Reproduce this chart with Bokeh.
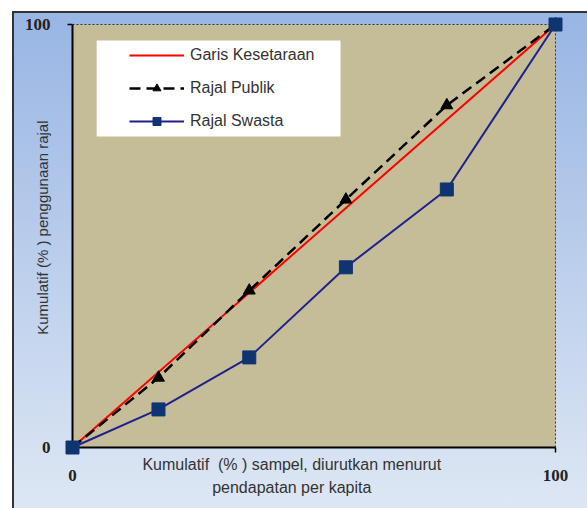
from bokeh.plotting import figure
from bokeh.models import Range1d, FixedTicker, BoxAnnotation, Legend, LegendItem
from bokeh.embed import file_html
from bokeh.resources import INLINE

# ---- data ----
x_pct = [0, 17.8, 36.6, 56.6, 77.5, 100]
rajal_publik = [0, 16.5, 37.1, 58.6, 80.9, 100]
rajal_swasta = [0, 9.0, 21.3, 42.6, 61.0, 100]
equal_x = [0, 100]
equal_y = [0, 100]
tick_values = [0, 100]
series_names = ["Garis Kesetaraan", "Rajal Publik", "Rajal Swasta"]
x_title = ["Kumulatif\u00a0 (% ) sampel, diurutkan menurut", "pendapatan per kapita"]
y_title = "Kumulatif (% ) penggunaan rajal"

NB = "\u00a0"
lo, hi = tick_values[0], tick_values[-1]

# frame is padded a little around the 0..100 plot area so corner markers are not cut
XPX = 4.83   # px per unit
YPX = 4.23
p = figure(width=587, height=508,
           x_range=Range1d(lo - 14 / XPX, hi + 14 / XPX),
           y_range=Range1d(lo - 13 / YPX, hi + 13 / YPX),
           output_backend="svg", toolbar_location=None,
           min_border_left=58, min_border_right=18,
           min_border_top=11, min_border_bottom=48,
           background_fill_color=None, border_fill_color=None)

p.styles = {
    "background": "linear-gradient(#333,#333) 12px 11px / 2px 100% no-repeat, "
                  "linear-gradient(#333,#333) 12px 11px / 100% 2px no-repeat, "
                  "linear-gradient(#98b5e4, #dfe8f4) 12px 11px / 100% 100% no-repeat, white"
}

p.outline_line_color = None
p.xgrid.visible = False
p.ygrid.visible = False

for ax in (p.xaxis[0], p.yaxis[0]):
    ax.ticker = FixedTicker(ticks=tick_values)
    ax.minor_tick_line_color = None
    ax.axis_line_color = None
    ax.major_tick_line_color = None
    ax.major_tick_in = 0
    ax.major_tick_out = 0
    ax.major_label_text_font = "Liberation Serif"
    ax.major_label_text_font_style = "bold"
    ax.major_label_text_font_size = "17px"
    ax.major_label_text_color = "#222222"
    ax.axis_label_text_font = "Liberation Sans"
    ax.axis_label_text_font_style = "normal"
    ax.axis_label_text_color = "#333333"
p.yaxis[0].major_label_standoff = 8
p.xaxis[0].major_label_standoff = 9

pad_x = NB * 10
p.xaxis[0].axis_label = x_title[0] + pad_x + "\n" + x_title[1] + pad_x
p.xaxis[0].axis_label_text_font_size = "16px"
p.xaxis[0].axis_label_standoff = -28
p.xaxis[0].axis_label_text_line_height = 1.375
p.yaxis[0].axis_label = NB * 4 + y_title
p.yaxis[0].axis_label_text_font_size = "15px"
p.yaxis[0].axis_label_standoff = -29

# plot area (tan) and legend background
p.add_layout(BoxAnnotation(left=lo, right=hi, bottom=lo, top=hi,
                           fill_color="#C4BD97", fill_alpha=1.0, line_color=None,
                           level="underlay"))
p.add_layout(BoxAnnotation(left=5.0, right=55.5, top=96.2, bottom=73.5,
                           fill_color="white", fill_alpha=1.0, line_color=None,
                           level="underlay"))

# plot-area border: dotted top/right, solid axis lines left/bottom, two ticks
p.line([lo, hi], [hi, hi], line_color="#333333", line_width=1, line_dash="2 2")
p.line([hi, hi], [lo, hi], line_color="#333333", line_width=1, line_dash="2 2")
p.line([lo, lo], [lo, hi], line_color="black", line_width=2)
p.line([lo, hi], [lo, lo], line_color="black", line_width=2)
p.segment(x0=[lo], y0=[hi], x1=[lo - 5 / XPX], y1=[hi], line_color="black", line_width=1.5)
p.segment(x0=[hi], y0=[lo], x1=[hi], y1=[lo - 5 / YPX], line_color="black", line_width=1.5)

r_eq = p.line(equal_x, equal_y, line_color="#FF0000", line_width=2)
r_pub_l = p.line(x_pct, rajal_publik, line_color="black", line_width=2.5, line_dash="11 6")
r_pub_m = p.scatter(x_pct, rajal_publik, marker="triangle", size=12,
                    fill_color="black", line_color="black")
r_sw_l = p.line(x_pct, rajal_swasta, line_color="#20208E", line_width=2)
r_sw_m = p.scatter(x_pct, rajal_swasta, marker="square", size=13,
                   fill_color="#0E3572", line_color="#0E3572")

legend = Legend(items=[
    LegendItem(label=series_names[0], renderers=[r_eq]),
    LegendItem(label=series_names[1], renderers=[r_pub_l, r_pub_m]),
    LegendItem(label=series_names[2], renderers=[r_sw_l, r_sw_m]),
], location=(71, 329))
legend.background_fill_alpha = 0
legend.border_line_color = None
legend.padding = 5
legend.spacing = 13
legend.glyph_width = 55
legend.glyph_height = 20
legend.label_height = 20
legend.label_standoff = 6
legend.label_text_font = "Liberation Sans"
legend.label_text_font_size = "16px"
legend.label_text_color = "#333333"
p.add_layout(legend, "center")

open("out.html", "w").write(file_html(p, INLINE))
